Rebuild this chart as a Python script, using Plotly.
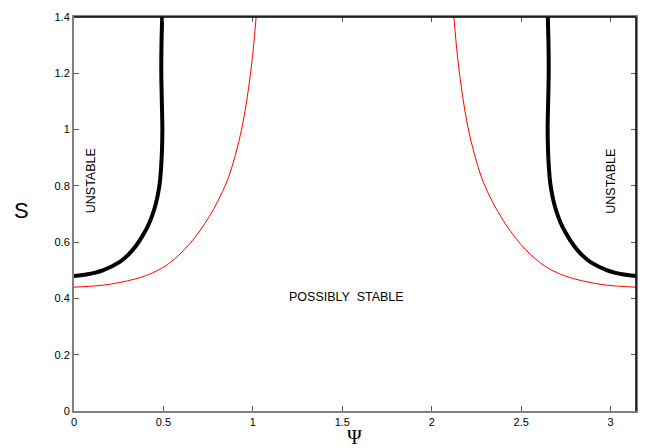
import math
import plotly.graph_objects as go

# Stability boundary, left branch (psi, S); the diagram is symmetric about psi = pi/2
black_psi = [0.0, 0.068, 0.161, 0.254, 0.300, 0.347, 0.394, 0.422, 0.448, 0.466,
             0.479, 0.487, 0.492, 0.494, 0.491, 0.488, 0.489, 0.493]
black_s = [0.48, 0.485, 0.50, 0.529, 0.553, 0.587, 0.634, 0.670, 0.715, 0.760,
           0.808, 0.866, 0.93, 1.00, 1.10, 1.20, 1.30, 1.40]

# Sufficient-condition curve, left branch
red_psi = [0.0, 0.161, 0.250, 0.347, 0.440, 0.534, 0.645, 0.757, 0.850, 0.900, 0.940, 0.972, 0.998, 1.018]
red_s = [0.44, 0.447, 0.456, 0.470, 0.491, 0.526, 0.593, 0.692, 0.808, 0.905, 1.01, 1.13, 1.26, 1.40]

x_ticks = [0, 0.5, 1, 1.5, 2, 2.5, 3]
y_ticks = [0, 0.2, 0.4, 0.6, 0.8, 1.0, 1.2, 1.4]
y_tick_labels = ["0", "0.2", "0.4", "0.6", "0.8", "1", "1.2", "1.4"]

PI = math.pi


def mirror(xs):
    return [PI - v for v in xs]


fig = go.Figure()

for xs, ys in [(black_psi, black_s), (mirror(black_psi), black_s)]:
    fig.add_trace(go.Scatter(x=xs, y=ys, mode="lines",
                             line=dict(color="black", width=4, shape="spline", smoothing=1.0),
                             hoverinfo="skip", showlegend=False))
for xs, ys in [(red_psi, red_s), (mirror(red_psi), red_s)]:
    fig.add_trace(go.Scatter(x=xs, y=ys, mode="lines",
                             line=dict(color="red", width=1, shape="spline", smoothing=1.0),
                             hoverinfo="skip", showlegend=False))

axis_common = dict(
    showgrid=False, zeroline=False, showline=True, linecolor="#808080", linewidth=2,
    ticks="inside", ticklen=5, tickcolor="#555555", tickwidth=1, mirror="ticks",
    tickfont=dict(family="Liberation Sans, Arial, sans-serif", size=11, color="black"),
)

fig.update_layout(
    width=649, height=448,
    margin=dict(l=74, r=12, t=11, b=37),
    paper_bgcolor="white", plot_bgcolor="white",
    xaxis=dict(range=[0, PI], tickvals=x_ticks, ticktext=[str(t) for t in x_ticks], **axis_common),
    yaxis=dict(range=[0, 1.4], tickvals=y_ticks, ticktext=y_tick_labels, **axis_common),
    font=dict(family="Liberation Sans, Arial, sans-serif", color="black"),
)

# black top and right borders
fig.add_shape(type="line", xref="paper", yref="paper", x0=0, x1=1, y0=1, y1=1,
              line=dict(color="black", width=1.5), layer="above")
fig.add_shape(type="line", xref="paper", yref="paper", x0=1, x1=1, y0=0, y1=1,
              line=dict(color="black", width=1.5), layer="above")

text_font = dict(family="Liberation Sans, Arial, sans-serif", size=12.5, color="black")
fig.add_annotation(x=0.096, y=0.817, text="UNSTABLE", textangle=-90, showarrow=False, font=text_font)
fig.add_annotation(x=3.0, y=0.817, text="UNSTABLE", textangle=-90, showarrow=False, font=text_font)
fig.add_annotation(x=1.525, y=0.404, text="POSSIBLY  STABLE", showarrow=False, font=text_font)

# axis titles
fig.add_annotation(xref="paper", yref="paper", x=-0.094, y=0.51, xanchor="center", yanchor="middle",
                   text="S", showarrow=False,
                   font=dict(family="Liberation Sans, Arial, sans-serif", size=22, color="black"))
fig.add_annotation(xref="paper", yref="paper", x=0.499, y=-0.065, xanchor="center", yanchor="middle",
                   text="Ψ", showarrow=False,
                   font=dict(family="Liberation Serif, DejaVu Serif, serif", size=20, color="black"))

fig.write_html("out.html")
